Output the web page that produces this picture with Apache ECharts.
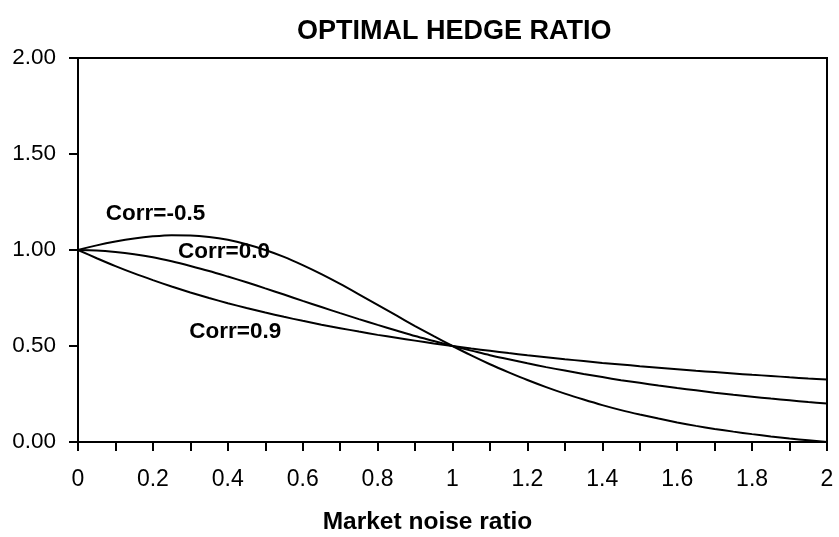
<!DOCTYPE html>
<html>
<head>
<meta charset="utf-8">
<script src="https://cdn.jsdelivr.net/npm/echarts@6/dist/echarts.min.js"></script>
<style>
html,body{margin:0;padding:0;background:#fff;}
#chart{width:839px;height:537px;}
</style>
</head>
<body>
<div id="chart"></div>
<script>
var noiseRatio = [0,0.05,0.1,0.15,0.2,0.25,0.3,0.35,0.4,0.45,0.5,0.55,0.6,0.65,0.7,0.75,0.8,0.85,0.9,0.95,1.0,
                  1.05,1.1,1.15,1.2,1.25,1.3,1.35,1.4,1.45,1.5,1.55,1.6,1.65,1.7,1.75,1.8,1.85,1.9,1.95,2.0];
var corrNeg05 = [1.000,1.024,1.044,1.060,1.071,1.077,1.076,1.068,1.053,1.030,1.000,0.964,0.921,0.874,0.823,0.769,0.714,0.659,0.604,0.551,0.500,
                 0.451,0.405,0.363,0.323,0.286,0.252,0.221,0.192,0.166,0.143,0.122,0.102,0.084,0.068,0.054,0.041,0.029,0.018,0.009,0.000];
var corr00   = [1.000,0.998,0.990,0.978,0.962,0.941,0.917,0.891,0.862,0.832,0.800,0.768,0.735,0.703,0.671,0.640,0.610,0.581,0.552,0.526,0.500,
                0.476,0.452,0.431,0.410,0.390,0.372,0.354,0.338,0.322,0.308,0.294,0.281,0.269,0.257,0.246,0.236,0.226,0.217,0.208,0.200];
var corr09   = [1.000,0.957,0.916,0.878,0.843,0.810,0.779,0.750,0.723,0.698,0.674,0.652,0.631,0.611,0.593,0.575,0.558,0.543,0.528,0.513,0.500,
                0.487,0.475,0.463,0.452,0.442,0.431,0.422,0.412,0.404,0.395,0.387,0.379,0.371,0.364,0.357,0.350,0.344,0.337,0.331,0.326];
var seriesNames = ['Corr=-0.5','Corr=0.0','Corr=0.9'];
var labelAnchors = [[0.207,1.19],[0.39,0.99],[0.42,0.573]];

function pairs(ys){ return noiseRatio.map(function(x,i){ return [x, ys[i]]; }); }
var allSeries = [corrNeg05, corr00, corr09];

var chart = echarts.init(document.getElementById('chart'));
var font = '"Liberation Sans", Arial, sans-serif';
chart.setOption({
  animation:false,
  backgroundColor:'#fff',
  title:{
    text:'OPTIMAL HEDGE RATIO',
    left:297, top:18, padding:0,
    textStyle:{fontFamily:font,fontWeight:'bold',fontSize:27,color:'#000'}
  },
  grid:{left:78,right:12,top:58,bottom:95,show:true,borderColor:'#000',borderWidth:2,backgroundColor:'transparent',
        containLabel:false,outerBoundsMode:'none'},
  xAxis:{
    type:'value',min:0,max:2,interval:0.1,
    name:'Market noise ratio',nameLocation:'middle',nameGap:68,
    nameTextStyle:{fontFamily:font,fontWeight:'bold',fontSize:24.5,color:'#000',padding:[0,50,0,0]},
    axisLine:{show:true,lineStyle:{color:'#000',width:2}},
    axisTick:{show:true,inside:false,length:9,lineStyle:{color:'#000',width:2}},
    axisLabel:{fontFamily:font,fontSize:23,color:'#000',margin:26,
      formatter:function(v){ var r=Math.round(v*10); return r%2===0 ? String(+(v.toFixed(1))) : ''; }},
    splitLine:{show:false}
  },
  yAxis:{
    type:'value',min:0,max:2,interval:0.5,
    axisLine:{show:true,lineStyle:{color:'#000',width:2}},
    axisTick:{show:true,inside:false,length:9,lineStyle:{color:'#000',width:2}},
    axisLabel:{fontFamily:font,fontSize:22.5,color:'#000',margin:22,formatter:function(v){return v.toFixed(2);}},
    splitLine:{show:false}
  },
  series: allSeries.map(function(ys,i){
    return {
      type:'line', name:seriesNames[i], data:pairs(ys), smooth:0.3, symbol:'none',
      lineStyle:{color:'#000',width:2},
      markPoint:{
        symbol:'circle', symbolSize:0,
        data:[{coord:labelAnchors[i], value:seriesNames[i]}],
        label:{show:true,position:'inside',formatter:seriesNames[i],fontFamily:font,fontWeight:'bold',fontSize:22.5,color:'#000'}
      }
    };
  })
});
</script>
</body>
</html>
